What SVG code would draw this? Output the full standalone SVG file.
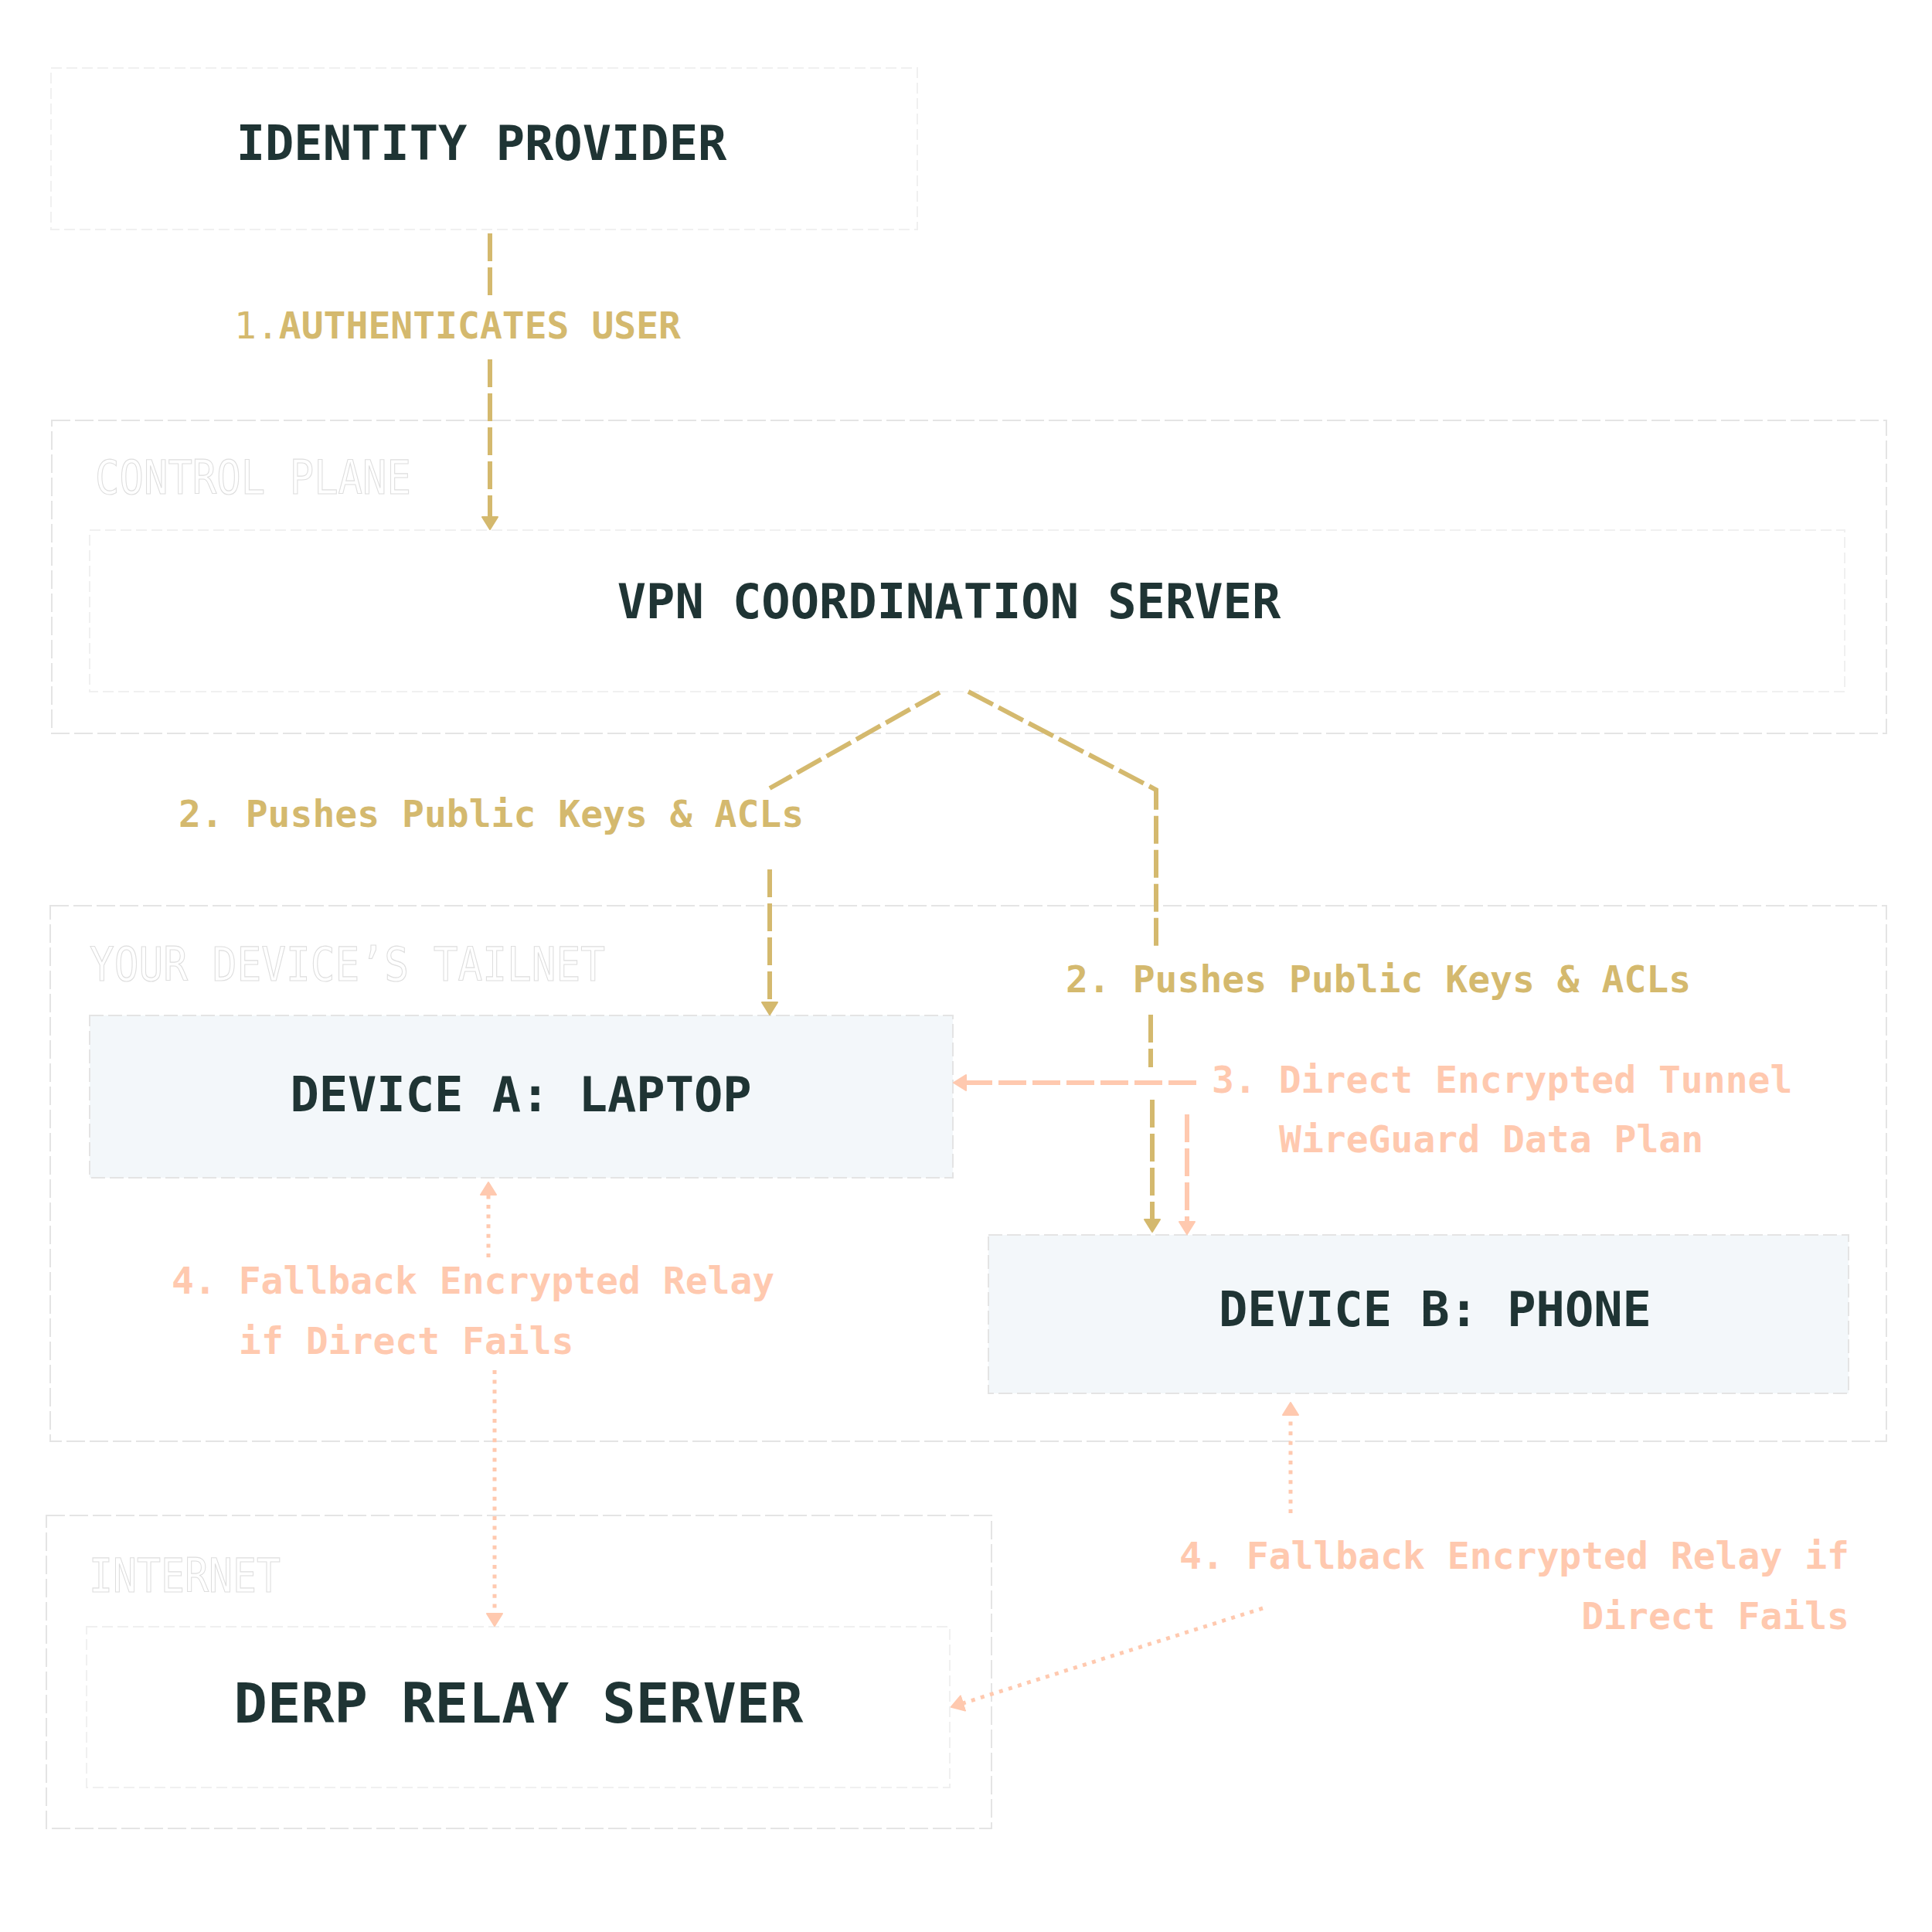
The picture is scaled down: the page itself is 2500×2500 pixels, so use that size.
<svg xmlns="http://www.w3.org/2000/svg" width="2500" height="2500" viewBox="0 0 2500 2500">
<defs>
<style>
.grp{fill:#ffffff;stroke:#e4e4e4;stroke-width:2;stroke-dasharray:24 6}
.node{fill:#ffffff;stroke:#f0f0f0;stroke-width:2;stroke-dasharray:14 6}
.dev{fill:#F3F7FA;stroke:#e4e4e4;stroke-width:2;stroke-dasharray:18 6}
.glabel{font-family:"DejaVu Sans Mono",monospace;font-size:60px;fill:#ffffff;stroke:#dedede;stroke-width:1.2}
.ntext{font-family:"DejaVu Sans Mono",monospace;font-weight:bold;font-size:62px;fill:#1F3434}
.gold{fill:none;stroke:#D4B96E;stroke-width:6;stroke-dasharray:36 8}
.peach{fill:none;stroke:#FFC9AF;stroke-width:6;stroke-dasharray:36 8}
.dot{fill:none;stroke:#FFC9AF;stroke-width:5;stroke-dasharray:5 7.6}
.lgold{font-family:"DejaVu Sans Mono",monospace;font-weight:bold;font-size:48px;fill:#D4B96E}
.lpeach{font-family:"DejaVu Sans Mono",monospace;font-weight:bold;font-size:48px;fill:#FFC9AF}
</style>
<marker id="ag" viewBox="0 0 18 24" refX="1" refY="12" markerWidth="18" markerHeight="24" markerUnits="userSpaceOnUse" orient="auto"><path d="M1,2 L17,12 L1,22 Z" fill="#D4B96E" stroke="#D4B96E" stroke-width="2" stroke-linejoin="round"/></marker>
<marker id="ap" viewBox="0 0 18 24" refX="1" refY="12" markerWidth="18" markerHeight="24" markerUnits="userSpaceOnUse" orient="auto"><path d="M1,2 L17,12 L1,22 Z" fill="#FFC9AF" stroke="#FFC9AF" stroke-width="2" stroke-linejoin="round"/></marker>
</defs>
<rect width="2500" height="2500" fill="#ffffff"/>

<g id="group-control-plane">
<rect class="grp" x="67" y="544" width="2374" height="405"/>
<text class="glabel" x="123" y="639" textLength="409" lengthAdjust="spacingAndGlyphs">CONTROL PLANE</text>
</g>
<g id="group-tailnet">
<rect class="grp" x="65" y="1172" width="2376" height="693"/>
<text class="glabel" x="116" y="1269" textLength="667" lengthAdjust="spacingAndGlyphs">YOUR DEVICE’S TAILNET</text>
</g>
<g id="group-internet">
<rect class="grp" x="60" y="1961" width="1223" height="405"/>
<text class="glabel" x="115" y="2060" textLength="248" lengthAdjust="spacingAndGlyphs">INTERNET</text>
</g>

<g id="node-identity-provider">
<rect class="node" x="66" y="88" width="1121" height="209"/>
<text class="ntext" x="623" y="207" text-anchor="middle">IDENTITY PROVIDER</text>
</g>
<g id="node-vpn-coordination-server">
<rect class="node" x="116" y="686" width="2271" height="209"/>
<text class="ntext" x="1228" y="800" text-anchor="middle">VPN COORDINATION SERVER</text>
</g>
<g id="node-device-a">
<rect class="dev" x="116" y="1314" width="1117" height="210"/>
<text class="ntext" x="674" y="1438" text-anchor="middle">DEVICE A: LAPTOP</text>
</g>
<g id="node-device-b">
<rect class="dev" x="1279" y="1598" width="1113" height="205"/>
<text class="ntext" x="1577" y="1716">DEVICE B: PHONE</text>
</g>
<g id="node-derp-relay-server">
<rect class="node" x="112" y="2105" width="1117" height="208"/>
<text class="ntext" x="671" y="2229" text-anchor="middle" style="font-size:72px">DERP RELAY SERVER</text>
</g>

<g id="connectors">
<path class="gold" d="M634,302 V384"/>
<path class="gold" d="M634,465 V669" marker-end="url(#ag)"/>
<text class="lgold" x="303" y="438"><tspan style="font-weight:normal">1.</tspan>AUTHENTICATES USER</text>

<path class="gold" d="M1216,896 L996,1020"/>
<path class="gold" d="M996,1125 V1297" marker-end="url(#ag)"/>
<text class="lgold" x="231" y="1070">2. Pushes Public Keys &amp; ACLs</text>

<path class="gold" d="M1253,895 L1496,1022 V1225"/>
<path class="gold" d="M1489,1313 V1381"/>
<path class="gold" d="M1491,1423 V1578" marker-end="url(#ag)"/>
<text class="lgold" x="1379" y="1284">2. Pushes Public Keys &amp; ACLs</text>

<path class="peach" d="M1548,1401 H1250" marker-end="url(#ap)"/>
<path class="peach" d="M1536,1442 V1581" marker-end="url(#ap)"/>
<text class="lpeach" x="1568" y="1414">3. Direct Encrypted Tunnel</text>
<text class="lpeach" x="1655" y="1491">WireGuard Data Plan</text>

<path class="dot" d="M632,1627 V1546" marker-end="url(#ap)"/>
<path class="dot" d="M640,1773 V2088" marker-end="url(#ap)"/>
<text class="lpeach" x="222" y="1674">4. Fallback Encrypted Relay</text>
<text class="lpeach" x="309" y="1752">if Direct Fails</text>

<path class="dot" d="M1670,1958 V1831" marker-end="url(#ap)"/>
<path class="dot" d="M1634,2081 L1246,2204" marker-end="url(#ap)"/>
<text class="lpeach" x="2393" y="2030" text-anchor="end">4. Fallback Encrypted Relay if</text>
<text class="lpeach" x="2393" y="2108" text-anchor="end">Direct Fails</text>
</g>
</svg>
